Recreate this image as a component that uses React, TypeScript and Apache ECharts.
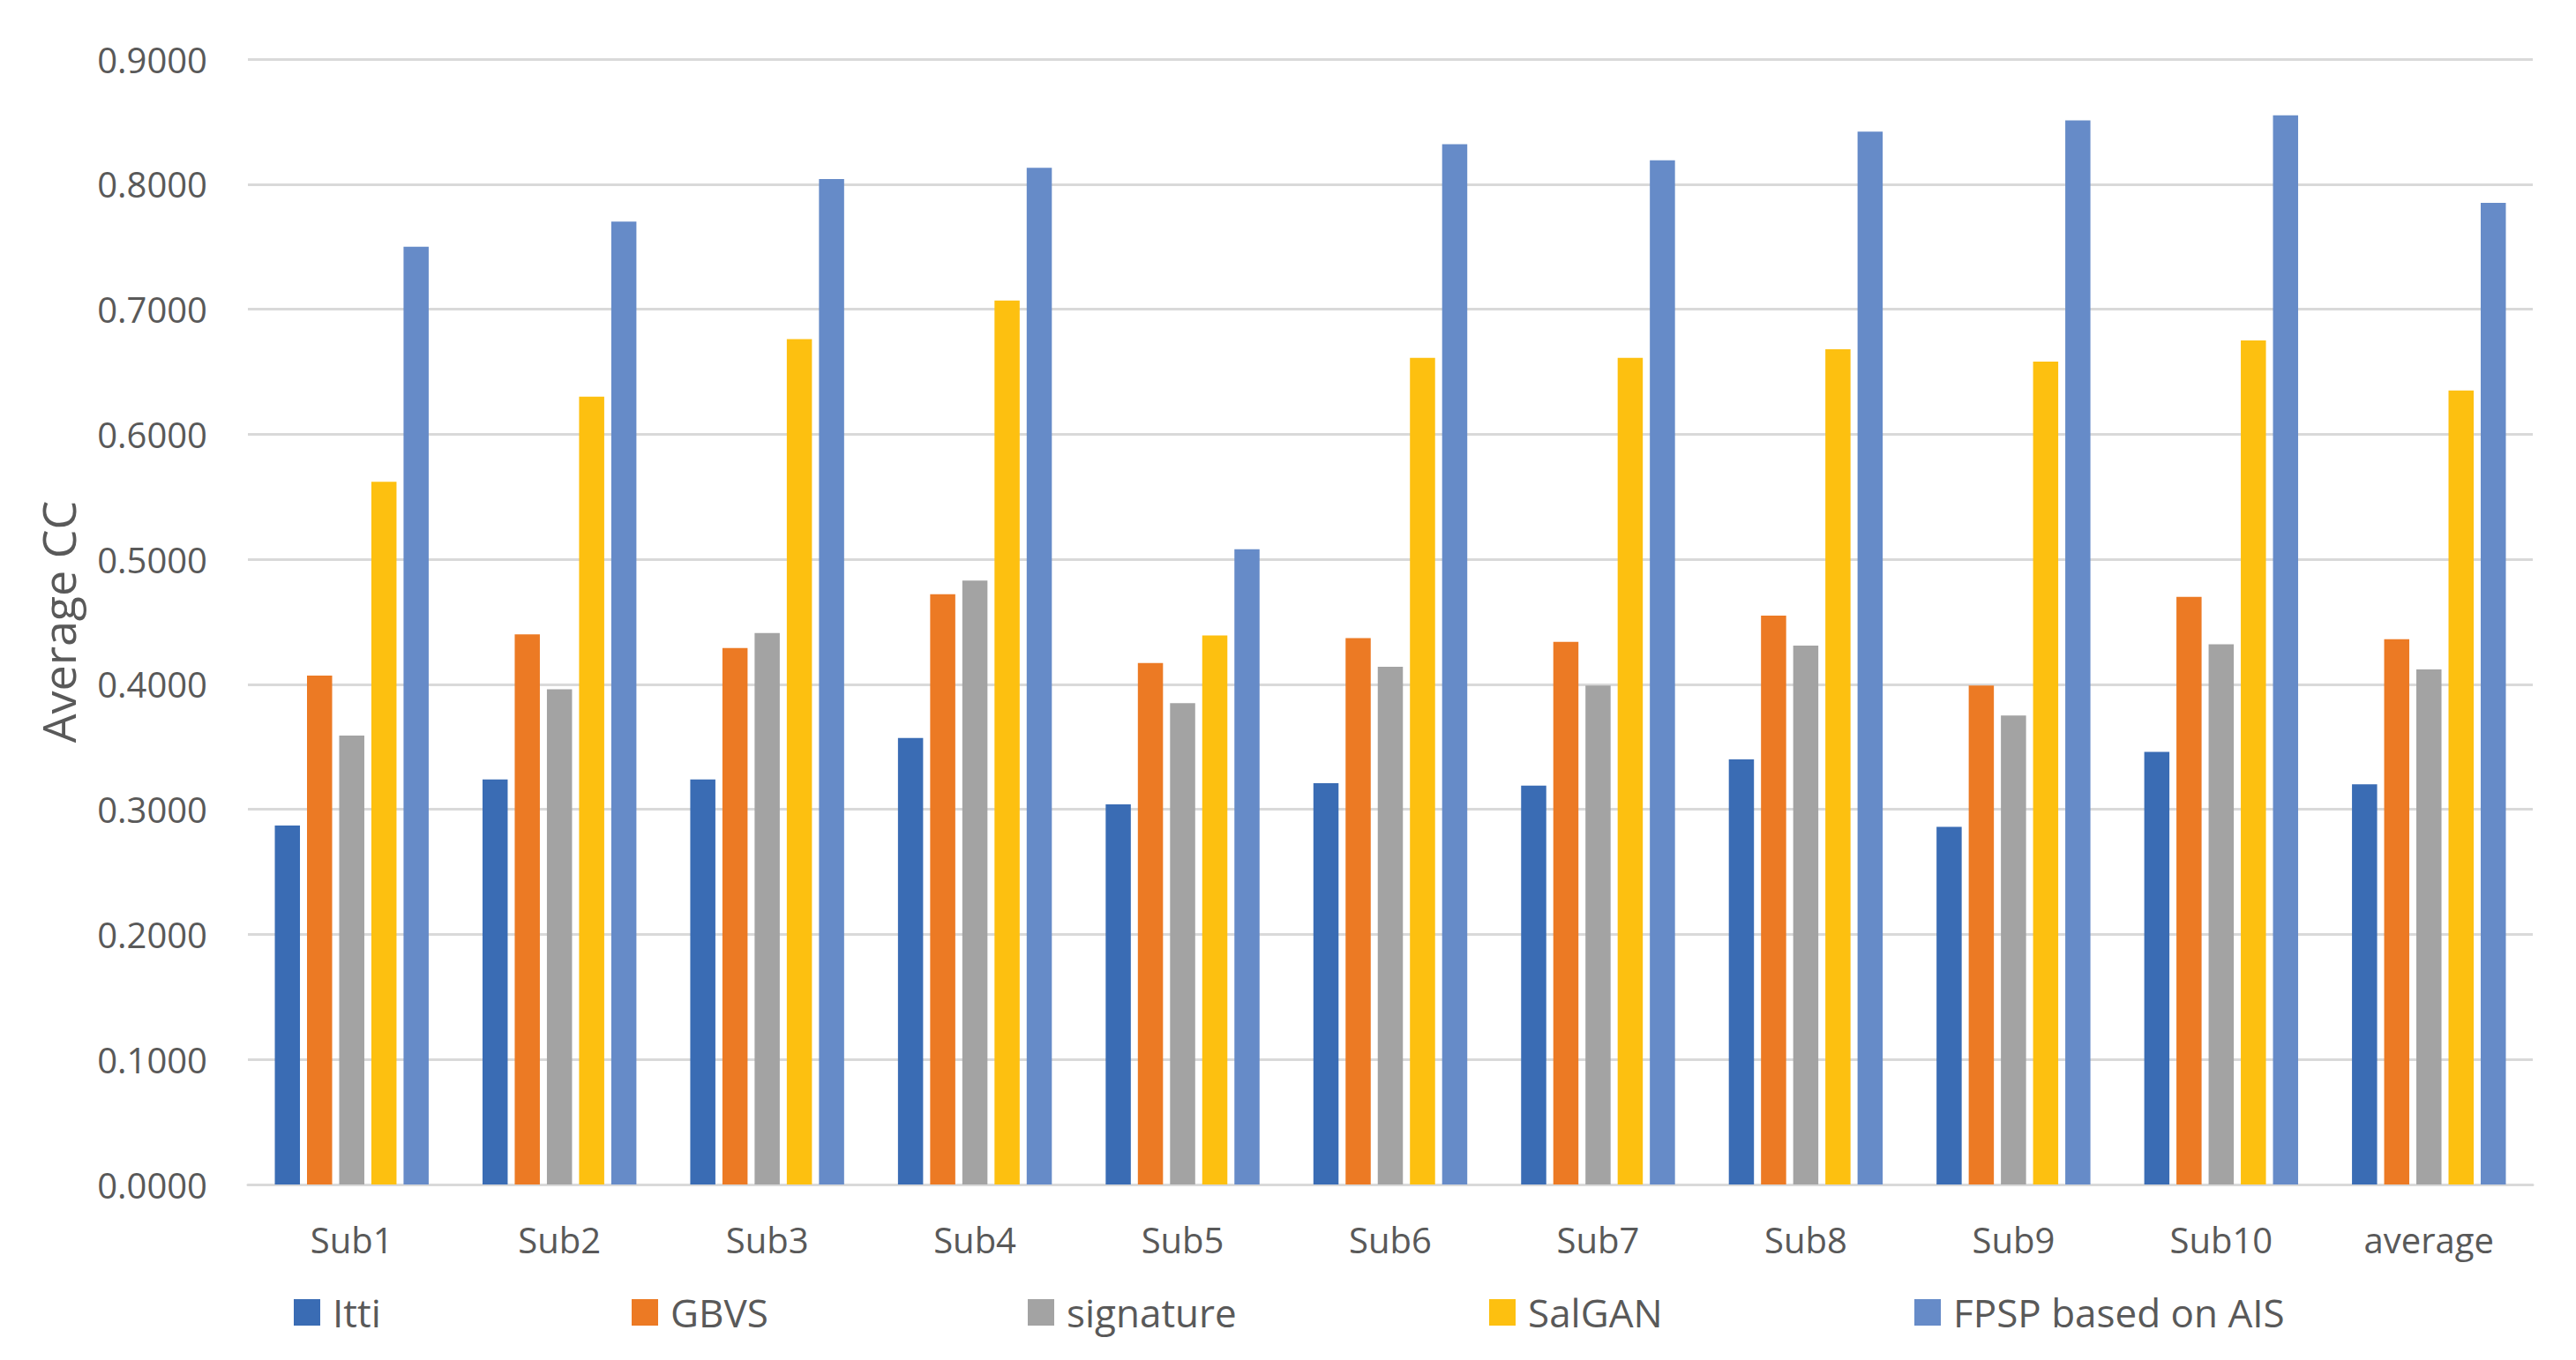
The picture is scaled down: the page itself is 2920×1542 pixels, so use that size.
import React, { useEffect, useRef } from "react";
import * as echarts from "echarts";

const categories = ["Sub1", "Sub2", "Sub3", "Sub4", "Sub5", "Sub6", "Sub7", "Sub8", "Sub9", "Sub10", "average"];
const seriesNames = ["Itti", "GBVS", "signature", "SalGAN", "FPSP based on AIS"];
const itti = [0.287, 0.324, 0.324, 0.357, 0.304, 0.321, 0.319, 0.340, 0.286, 0.346, 0.320];
const gbvs = [0.407, 0.440, 0.429, 0.472, 0.417, 0.437, 0.434, 0.455, 0.399, 0.470, 0.436];
const signature = [0.359, 0.396, 0.441, 0.483, 0.385, 0.414, 0.399, 0.431, 0.375, 0.432, 0.412];
const salgan = [0.562, 0.630, 0.676, 0.707, 0.439, 0.661, 0.661, 0.668, 0.658, 0.675, 0.635];
const fpsp = [0.750, 0.770, 0.804, 0.813, 0.508, 0.832, 0.819, 0.842, 0.851, 0.855, 0.785];
const colors = ["#3A6CB4", "#EC7A24", "#A3A3A3", "#FDC010", "#668BC8"];
const legendLefts = [328, 711, 1160, 1683, 2165];

const FONT = "'Open Sans', 'Noto Sans', sans-serif";

export default function App() {
  const ref = useRef<HTMLDivElement>(null);
  useEffect(() => {
    if (!ref.current) return;
    const chart = echarts.init(ref.current, null, { renderer: "svg" });
    const values = [itti, gbvs, signature, salgan, fpsp];
    chart.setOption({
      animation: false,
      backgroundColor: "#ffffff",
      grid: { left: 281, right: 49, top: 67, bottom: 199, containLabel: false },
      legend: seriesNames.map((n, i) => ({
        data: [n],
        left: legendLefts[i],
        top: 1461,
        itemWidth: 30,
        itemHeight: 30,
        icon: "rect",
        selectedMode: false,
        textStyle: { fontFamily: FONT, fontSize: 44, color: "#595959", padding: [0, 0, 0, 9] },
      })),
      xAxis: {
        type: "category",
        data: categories,
        axisLine: { lineStyle: { color: "#D9D9D9", width: 3 } },
        axisTick: { show: false },
        axisLabel: { fontFamily: FONT, fontSize: 40, color: "#595959", margin: 42 },
      },
      yAxis: {
        type: "value",
        min: 0,
        max: 0.9,
        interval: 0.1,
        name: "Average CC",
        nameLocation: "middle",
        nameGap: 190,
        nameTextStyle: { fontFamily: FONT, fontSize: 52, color: "#595959" },
        axisLine: { show: false },
        axisTick: { show: false },
        splitLine: { lineStyle: { color: "#D9D9D9", width: 3 } },
        axisLabel: {
          fontFamily: FONT,
          fontSize: 40,
          color: "#595959",
          margin: 46,
          formatter: (v: number) => v.toFixed(4),
        },
      },
      series: seriesNames.map((n, i) => ({
        name: n,
        type: "bar",
        data: values[i],
        barWidth: 28.5,
        barGap: "28%",
        itemStyle: { color: colors[i] },
      })),
    });
    return () => chart.dispose();
  }, []);
  return (
    <div
      ref={ref}
      style={{ position: "fixed", left: 0, top: 0, width: 2920, height: 1542, background: "#fff" }}
    />
  );
}
